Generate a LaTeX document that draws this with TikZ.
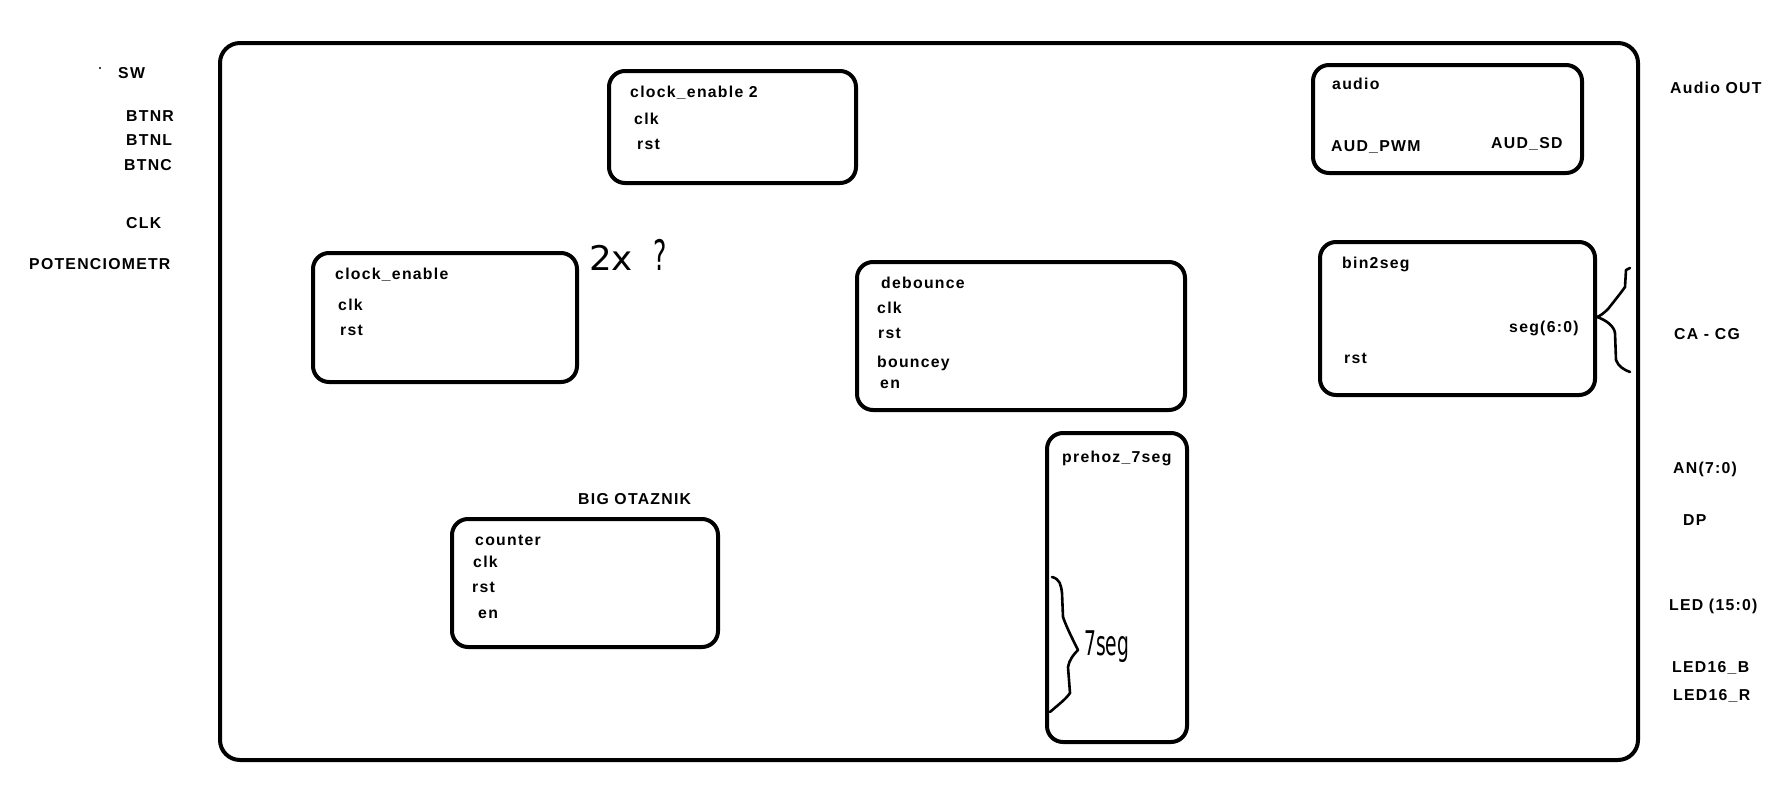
\documentclass[tikz,border=0pt]{standalone}
\usepackage{fontspec}
\setmainfont{Liberation Sans}[LetterSpace=8]
\newfontfamily\handfont{DejaVu Sans}
\begin{document}
\begin{tikzpicture}[x=1pt,y=-1pt,
  blk/.style={draw=black, line width=4pt, rounded corners=16pt, inner sep=0pt},
  lbl/.style={anchor=base west, inner sep=0pt, font=\fontsize{15.8}{17}\selectfont\bfseries},
  hand/.style={line width=2.6pt, line cap=round, line join=round}]
\useasboundingbox (0,0) rectangle (1791,787);
% main frame
\node[blk, minimum width=1418pt, minimum height=717pt, rounded corners=20pt] (frame) at (929,401.5) {};
% blocks
\node[blk, minimum width=247pt, minimum height=112pt] (ce2) at (732.5,127) {};
\node[blk, minimum width=269pt, minimum height=108pt] (aud) at (1447.5,119) {};
\node[blk, minimum width=264pt, minimum height=129pt] (ce) at (445,317.5) {};
\node[blk, minimum width=328pt, minimum height=148pt] (deb) at (1021,336) {};
\node[blk, minimum width=275pt, minimum height=153pt] (b2s) at (1457.5,318.5) {};
\node[blk, minimum width=140pt, minimum height=309pt] (prz) at (1117,587.5) {};
\node[blk, minimum width=266pt, minimum height=128pt] (cnt) at (585,583) {};
% left labels
\fill (100,68) circle (1.2pt);
\node[lbl] (sw) at (118,78) {SW};
\node[lbl] (btnr) at (126,121) {BTNR};
\node[lbl] (btnl) at (126,145) {BTNL};
\node[lbl] (btnc) at (124,170) {BTNC};
\node[lbl] (clk) at (126,228) {CLK};
\node[lbl] (pot) at (29,269) {POTENCIOMETR};
% right labels
\node[lbl] (aout) at (1670,93) {Audio OUT};
\node[lbl] (cacg) at (1674,339) {CA - CG};
\node[lbl] (an) at (1673,473) {AN(7:0)};
\node[lbl] (dp) at (1683,525) {DP};
\node[lbl] (led) at (1669,610) {LED (15:0)};
\node[lbl] (ledb) at (1672,672) {LED16\_B};
\node[lbl] (ledr) at (1673,700) {LED16\_R};
% clock_enable 2
\node[lbl] (ce2t) at (630,97) {clock\_enable 2};
\node[lbl] (ce2c) at (634,124) {clk};
\node[lbl] (ce2r) at (637,149) {rst};
% audio
\node[lbl] (audt) at (1332,89) {audio};
\node[lbl] (audp) at (1331,151) {AUD\_PWM};
\node[lbl] (auds) at (1491,148) {AUD\_SD};
% clock_enable
\node[lbl] (cet) at (335,279) {clock\_enable};
\node[lbl] (cec) at (338,310) {clk};
\node[lbl] (cer) at (340,335) {rst};
% debounce
\node[lbl] (debt) at (881,288) {debounce};
\node[lbl] (debc) at (877,313) {clk};
\node[lbl] (debr) at (878,338) {rst};
\node[lbl] (debb) at (877,367) {bouncey};
\node[lbl] (debe) at (880,388) {en};
% bin2seg
\node[lbl] (b2st) at (1342,268) {bin2seg};
\node[lbl] (b2sg) at (1509,332) {seg(6:0)};
\node[lbl] (b2sr) at (1344,363) {rst};
% prehoz
\node[lbl] (przt) at (1062,462) {prehoz\_7seg};
% counter
\node[lbl] (big) at (578,504) {BIG OTAZNIK};
\node[lbl] (cntt) at (475,545) {counter};
\node[lbl] (cntc) at (473,567) {clk};
\node[lbl] (cntr) at (472,592) {rst};
\node[lbl] (cnte) at (478,618) {en};
% handwritten notes
\node[anchor=base west, inner sep=0pt, font=\handfont\fontsize{34}{36}\selectfont] (twox) at (589,270) {\scalebox{1.05}[1]{2x}};
\node[anchor=base west, inner sep=0pt, font=\handfont\fontsize{42}{44}\selectfont] (qm) at (653,270) {\scalebox{0.6}[1]{?}};
\node[anchor=base west, inner sep=0pt, font=\handfont\fontsize{34}{36}\selectfont] (sevseg) at (1084,655) {\scalebox{0.55}[1]{7seg}};
% braces
\draw[hand] (1052,577) .. controls (1060,579) and (1061,585) .. (1062,593)
  -- (1063,617) .. controls (1066,626) and (1072,638) .. (1078,650)
  .. controls (1074,654) and (1069,660) .. (1068,667)
  -- (1070,693) .. controls (1066,699) and (1058,705) .. (1050,712);
\draw[hand] (1630,268) -- (1626,270) -- (1625,287)
  .. controls (1620,294) and (1612,304) .. (1608,309)
  .. controls (1604,313) and (1600,316) .. (1597,317)
  .. controls (1606,320) and (1614,326) .. (1615,333)
  -- (1616,360) .. controls (1618,366) and (1624,370) .. (1630,372);
\end{tikzpicture}
\end{document}
